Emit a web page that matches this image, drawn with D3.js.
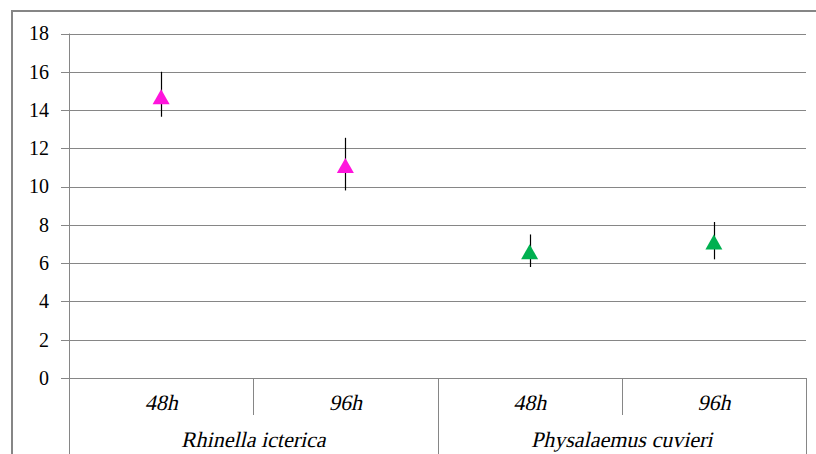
<!DOCTYPE html>
<html>
<head>
<meta charset="utf-8">
<script src="https://cdn.jsdelivr.net/npm/d3@7"></script>
<style>
  body { margin: 0; background: #fff; }
  svg { display: block; }
</style>
</head>
<body>
<div id="chart"></div>
<script>
// data
const species = ["Rhinella icterica", "Physalaemus cuvieri"];
const times = ["48h", "96h"];
const means = [14.7, 11.1, 6.6, 7.1];
const upper = [16.0, 12.55, 7.5, 8.15];
const lower = [13.65, 9.8, 5.8, 6.2];
const colors = ["#ff14dc", "#ff14dc", "#00b050", "#00b050"];
const yTicks = [0, 2, 4, 6, 8, 10, 12, 14, 16, 18];

const width = 816, height = 454;
const margin = {top: 33.5, right: 10, bottom: 76, left: 69};
const gridColor = "#868686";
const serif = "Tinos, 'Times New Roman', 'Liberation Serif', serif";
// slant the regular face rather than rely on an italic serif face
const slant = "skewX(-13)";

const svg = d3.select("#chart").append("svg")
    .attr("width", width)
    .attr("height", height);

// outer chart border (runs off the page to the right and bottom)
svg.append("rect")
    .attr("x", 12)
    .attr("y", 11)
    .attr("width", 900)
    .attr("height", 600)
    .attr("fill", "none")
    .attr("stroke", gridColor)
    .attr("stroke-width", 2);

// one slot for each species/time combo
const slots = [];
species.forEach(s => times.forEach(t => slots.push(s + "|" + t)));

const x = d3.scaleBand()
    .domain(slots)
    .range([margin.left, width - margin.right]);

const y = d3.scaleLinear()
    .domain([0, 18])
    .range([height - margin.bottom, margin.top]);

const x0 = margin.left, x1 = width - margin.right;

// horizontal gridlines + ticks
const grid = svg.append("g");
grid.selectAll("line.grid")
    .data(yTicks)
    .enter().append("line")
    .attr("class", "grid")
    .attr("x1", x0 - 8)
    .attr("x2", x1)
    .attr("y1", d => Math.round(y(d)) + 0.5)
    .attr("y2", d => Math.round(y(d)) + 0.5)
    .attr("stroke", gridColor)
    .attr("stroke-width", 1);

grid.selectAll("text")
    .data(yTicks)
    .enter().append("text")
    .attr("x", 49)
    .attr("y", d => y(d))
    .attr("dy", "0.34em")
    .attr("text-anchor", "end")
    .attr("font-family", serif)
    .attr("font-size", "20px")
    .attr("fill", "#000")
    .text(d => d);

// y axis line
svg.append("line")
    .attr("x1", x0 + 0.5).attr("x2", x0 + 0.5)
    .attr("y1", y(18)).attr("y2", height)
    .attr("stroke", gridColor);

// category separators
const yBase = y(0);
slots.forEach((d, i) => {
    if (i === 0) return;
    const xs = Math.round(x(d)) + 0.5;
    const isGroupEdge = i % times.length === 0;
    svg.append("line")
        .attr("x1", xs).attr("x2", xs)
        .attr("y1", yBase)
        .attr("y2", isGroupEdge ? height : yBase + 37)
        .attr("stroke", gridColor);
});
svg.append("line")
    .attr("x1", Math.round(x1) + 0.5).attr("x2", Math.round(x1) + 0.5)
    .attr("y1", yBase).attr("y2", height)
    .attr("stroke", gridColor);

// time labels
svg.selectAll("text.time")
    .data(slots)
    .enter().append("text")
    .attr("class", "time")
    .attr("transform", d => "translate(" + (x(d) + x.bandwidth() / 2) + "," + (yBase + 32) + ") " + slant)
    .attr("text-anchor", "middle")
    .attr("font-family", serif)
    .attr("font-size", "22px")
    .attr("fill", "#000")
    .text(d => d.split("|")[1]);

// species labels
svg.selectAll("text.species")
    .data(species)
    .enter().append("text")
    .attr("class", "species")
    .attr("transform", (d, i) => "translate(" + (x(slots[i * 2]) + x.bandwidth()) + "," + (yBase + 69) + ") " + slant)
    .attr("text-anchor", "middle")
    .attr("font-family", serif)
    .attr("font-size", "22px")
    .attr("fill", "#000")
    .text(d => d);

// error bars
const pts = slots.map((s, i) => ({slot: s, mean: means[i], hi: upper[i], lo: lower[i], color: colors[i]}));
svg.selectAll("line.err")
    .data(pts)
    .enter().append("line")
    .attr("class", "err")
    .attr("x1", d => Math.round(x(d.slot) + x.bandwidth() / 2) + 0.5)
    .attr("x2", d => Math.round(x(d.slot) + x.bandwidth() / 2) + 0.5)
    .attr("y1", d => y(d.hi))
    .attr("y2", d => y(d.lo))
    .attr("stroke", "#000")
    .attr("stroke-width", 1.2);

// triangle markers
const triW = 17, triH = 15;
svg.selectAll("path.marker")
    .data(pts)
    .enter().append("path")
    .attr("class", "marker")
    .attr("d", d => {
        const cx = x(d.slot) + x.bandwidth() / 2;
        const cy = y(d.mean);
        return "M" + cx + "," + (cy - triH / 2) +
            "L" + (cx + triW / 2) + "," + (cy + triH / 2) +
            "L" + (cx - triW / 2) + "," + (cy + triH / 2) + "Z";
    })
    .attr("fill", d => d.color);
</script>
</body>
</html>
